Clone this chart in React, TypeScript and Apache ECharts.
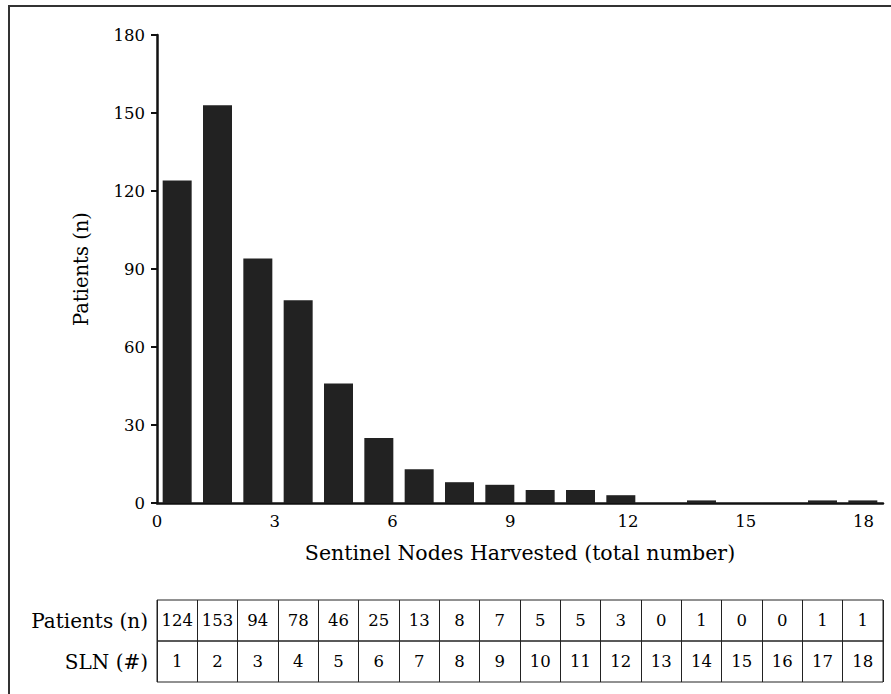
import React, { useEffect, useRef } from "react";
import * as echarts from "echarts";

const slnCategories = ["1", "2", "3", "4", "5", "6", "7", "8", "9", "10", "11", "12", "13", "14", "15", "16", "17", "18"];
const patients = [124, 153, 94, 78, 46, 25, 13, 8, 7, 5, 5, 3, 0, 1, 0, 0, 1, 1];
const yMin = 0;
const yMax = 180;
const yInterval = 30;
const xValueMax = 18.5;
const xInterval = 3;
const yName = "Patients (n)";
const xName = "Sentinel Nodes Harvested (total number)";
const rowLabels = ["Patients (n)", "SLN (#)"];

const FONT = "DejaVu Serif";
const INK = "#000";

export default function App() {
  const ref = useRef<HTMLDivElement>(null);
  useEffect(() => {
    document.body.style.margin = "0";
    const chart = echarts.init(ref.current!, null, { renderer: "svg" });
    const tableX = (gridIndex: number, fmt: (v: string, i: number) => string) => ({
      type: "category",
      gridIndex,
      data: slnCategories,
      position: "bottom",
      axisLine: { show: false },
      axisTick: { show: false },
      splitLine: { show: true, lineStyle: { color: "#222", width: 1 } },
      axisLabel: {
        interval: 0,
        margin: -20.5,
        verticalAlign: "middle",
        fontFamily: FONT,
        fontSize: 16.5,
        color: INK,
        formatter: fmt,
      },
    });
    const tableY = (gridIndex: number, label: string) => ({
      type: "category",
      gridIndex,
      data: [label],
      axisLine: { show: false },
      axisTick: { show: false },
      splitLine: { show: false },
      axisLabel: { margin: 9, fontFamily: FONT, fontSize: 20, color: INK },
    });
    chart.setOption({
      animation: false,
      backgroundColor: "#fff",
      graphic: [
        {
          type: "rect",
          shape: { x: 9, y: 6, width: 900, height: 720 },
          style: { fill: "none", stroke: "#333", lineWidth: 2 },
          silent: true,
        },
      ],
      grid: [
        { left: 157, right: 8, top: 35, bottom: 191 },
        { left: 157, right: 8, top: 600, height: 41, show: true, borderColor: "#222", borderWidth: 1 },
        { left: 157, right: 8, top: 641, height: 41, show: true, borderColor: "#222", borderWidth: 1 },
      ],
      xAxis: [
        {
          type: "category",
          gridIndex: 0,
          data: slnCategories,
          position: "bottom",
          axisLine: { show: true, lineStyle: { color: "#111", width: 2.5 } },
          axisTick: { show: false },
          axisLabel: { show: false },
          name: xName,
          nameLocation: "middle",
          nameGap: 39,
          nameTextStyle: { fontFamily: FONT, fontSize: 20.5, color: INK, verticalAlign: "top" },
        },
        {
          type: "value",
          gridIndex: 0,
          position: "bottom",
          min: 0,
          max: xValueMax,
          interval: xInterval,
          axisLine: { show: false },
          axisTick: { show: false },
          splitLine: { show: false },
          axisLabel: {
            margin: 10,
            fontFamily: FONT,
            fontSize: 16.5,
            color: INK,
            formatter: (v: number) => (v % xInterval === 0 ? String(v) : ""),
          },
        },
        tableX(1, (_v: string, i: number) => String(patients[i])),
        tableX(2, (v: string) => v),
      ],
      yAxis: [
        {
          type: "value",
          gridIndex: 0,
          min: yMin,
          max: yMax,
          interval: yInterval,
          axisLine: { show: true, lineStyle: { color: "#111", width: 2.5 } },
          axisTick: { show: true, length: 6, lineStyle: { color: "#111", width: 2 } },
          splitLine: { show: false },
          axisLabel: { margin: 12, fontFamily: FONT, fontSize: 16.5, color: INK },
          name: yName,
          nameLocation: "middle",
          nameGap: 66,
          nameTextStyle: { fontFamily: FONT, fontSize: 19.5, color: INK },
        },
        tableY(1, rowLabels[0]),
        tableY(2, rowLabels[1]),
      ],
      series: [
        {
          type: "bar",
          xAxisIndex: 0,
          yAxisIndex: 0,
          data: patients,
          barWidth: 29,
          itemStyle: { color: "#222" },
        },
      ],
    });
    return () => chart.dispose();
  }, []);
  return <div ref={ref} style={{ width: 891, height: 694 }} />;
}
